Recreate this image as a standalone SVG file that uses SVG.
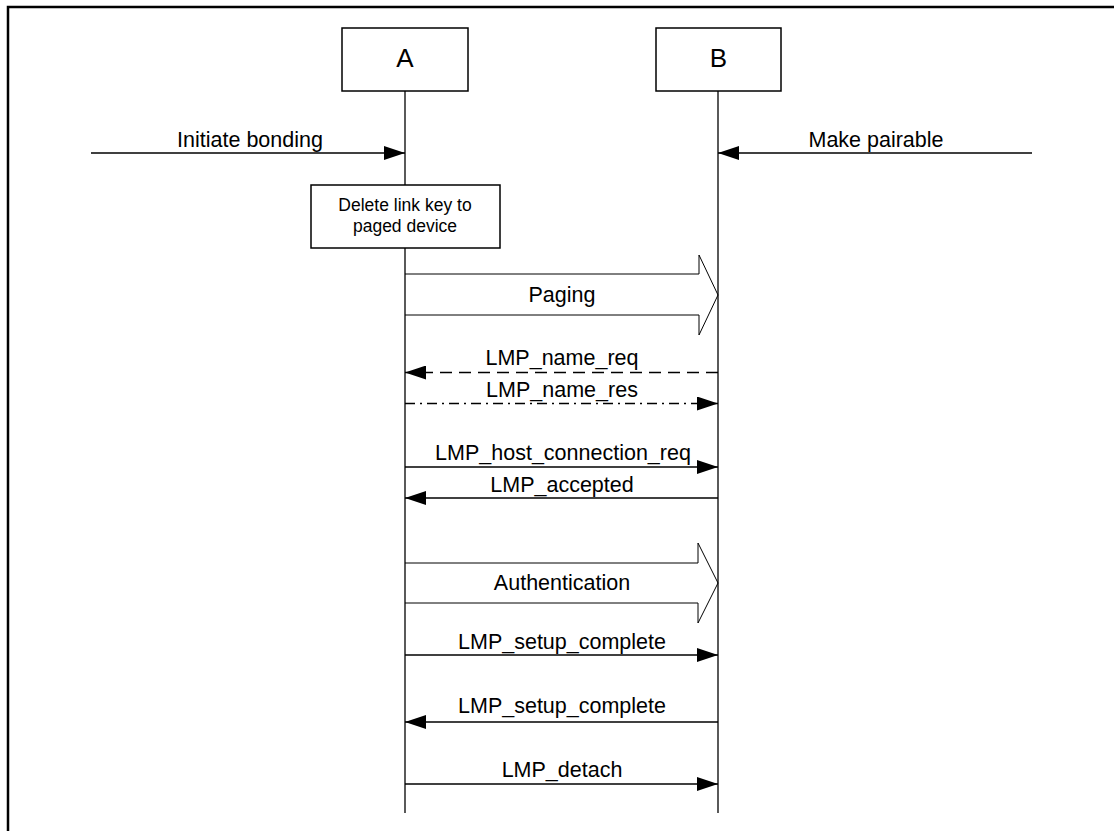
<svg xmlns="http://www.w3.org/2000/svg" width="1114" height="831" viewBox="0 0 1114 831">
<style>
.t{font-family:"Liberation Sans",Arial,sans-serif;font-size:21.5px;fill:#000;text-anchor:middle}
.s{font-size:17.5px}
.big{font-size:26px}
.ln{stroke:#000;stroke-width:1.3;fill:none}
.box{fill:#fff;stroke:#000;stroke-width:1.5}
.blk{fill:none;stroke:#000;stroke-width:1}
</style>
<defs>
<marker id="ah" markerUnits="userSpaceOnUse" viewBox="0 0 21 14" refX="21" refY="7" markerWidth="21" markerHeight="14" orient="auto">
<path d="M0,0 L21,7 L0,14 Z" fill="#000"/>
</marker>
</defs>
<rect width="1114" height="831" fill="#fff"/>
<path d="M8,831 V7 H1114" fill="none" stroke="#000" stroke-width="2.5"/>
<g id="lifelines">
<line class="ln" x1="405" y1="91" x2="405" y2="813"/>
<line class="ln" x1="718" y1="91" x2="718" y2="813"/>
</g>
<g id="nodeA">
<rect class="box" x="342" y="28" width="126" height="63"/>
<text class="t big" x="405" y="67">A</text>
</g>
<g id="nodeB">
<rect class="box" x="656" y="28" width="125" height="63"/>
<text class="t big" x="718.5" y="67">B</text>
</g>
<g id="deleteKey">
<rect class="box" x="311" y="185" width="189" height="63"/>
<text class="t s" x="405" y="211">Delete link key to</text>
<text class="t s" x="405" y="232">paged device</text>
</g>
<g id="paging">
<path class="blk" d="M405,274 H699 V255 L718,295 L699,335 V315 H405"/>
<text class="t" x="562" y="302">Paging</text>
</g>
<g id="authentication">
<path class="blk" d="M405,563 H698 V543 L718,583 L698,623 V603 H405"/>
<text class="t" x="562" y="590">Authentication</text>
</g>
<g id="connectors">
<line class="ln" x1="91" y1="153" x2="405" y2="153" marker-end="url(#ah)"/>
<line class="ln" x1="1032" y1="153" x2="718" y2="153" marker-end="url(#ah)"/>
<line class="ln" x1="718" y1="372.5" x2="405" y2="372.5" stroke-dasharray="12,7" marker-end="url(#ah)"/>
<line class="ln" x1="405" y1="403.5" x2="718" y2="403.5" stroke-dasharray="10,5,2,5" marker-end="url(#ah)"/>
<line class="ln" x1="405" y1="467" x2="718" y2="467" marker-end="url(#ah)"/>
<line class="ln" x1="718" y1="498" x2="405" y2="498" marker-end="url(#ah)"/>
<line class="ln" x1="405" y1="655" x2="718" y2="655" marker-end="url(#ah)"/>
<line class="ln" x1="718" y1="722" x2="405" y2="722" marker-end="url(#ah)"/>
<line class="ln" x1="405" y1="784" x2="718" y2="784" marker-end="url(#ah)"/>
</g>
<g id="labels">
<text class="t" x="250" y="147">Initiate bonding</text>
<text class="t" x="876" y="147">Make pairable</text>
<text class="t" x="562" y="365">LMP_name_req</text>
<text class="t" x="562" y="396.5">LMP_name_res</text>
<text class="t" x="563" y="460">LMP_host_connection_req</text>
<text class="t" x="562" y="491.5">LMP_accepted</text>
<text class="t" x="562" y="649">LMP_setup_complete</text>
<text class="t" x="562" y="713">LMP_setup_complete</text>
<text class="t" x="562" y="776.5">LMP_detach</text>
</g>
</svg>
